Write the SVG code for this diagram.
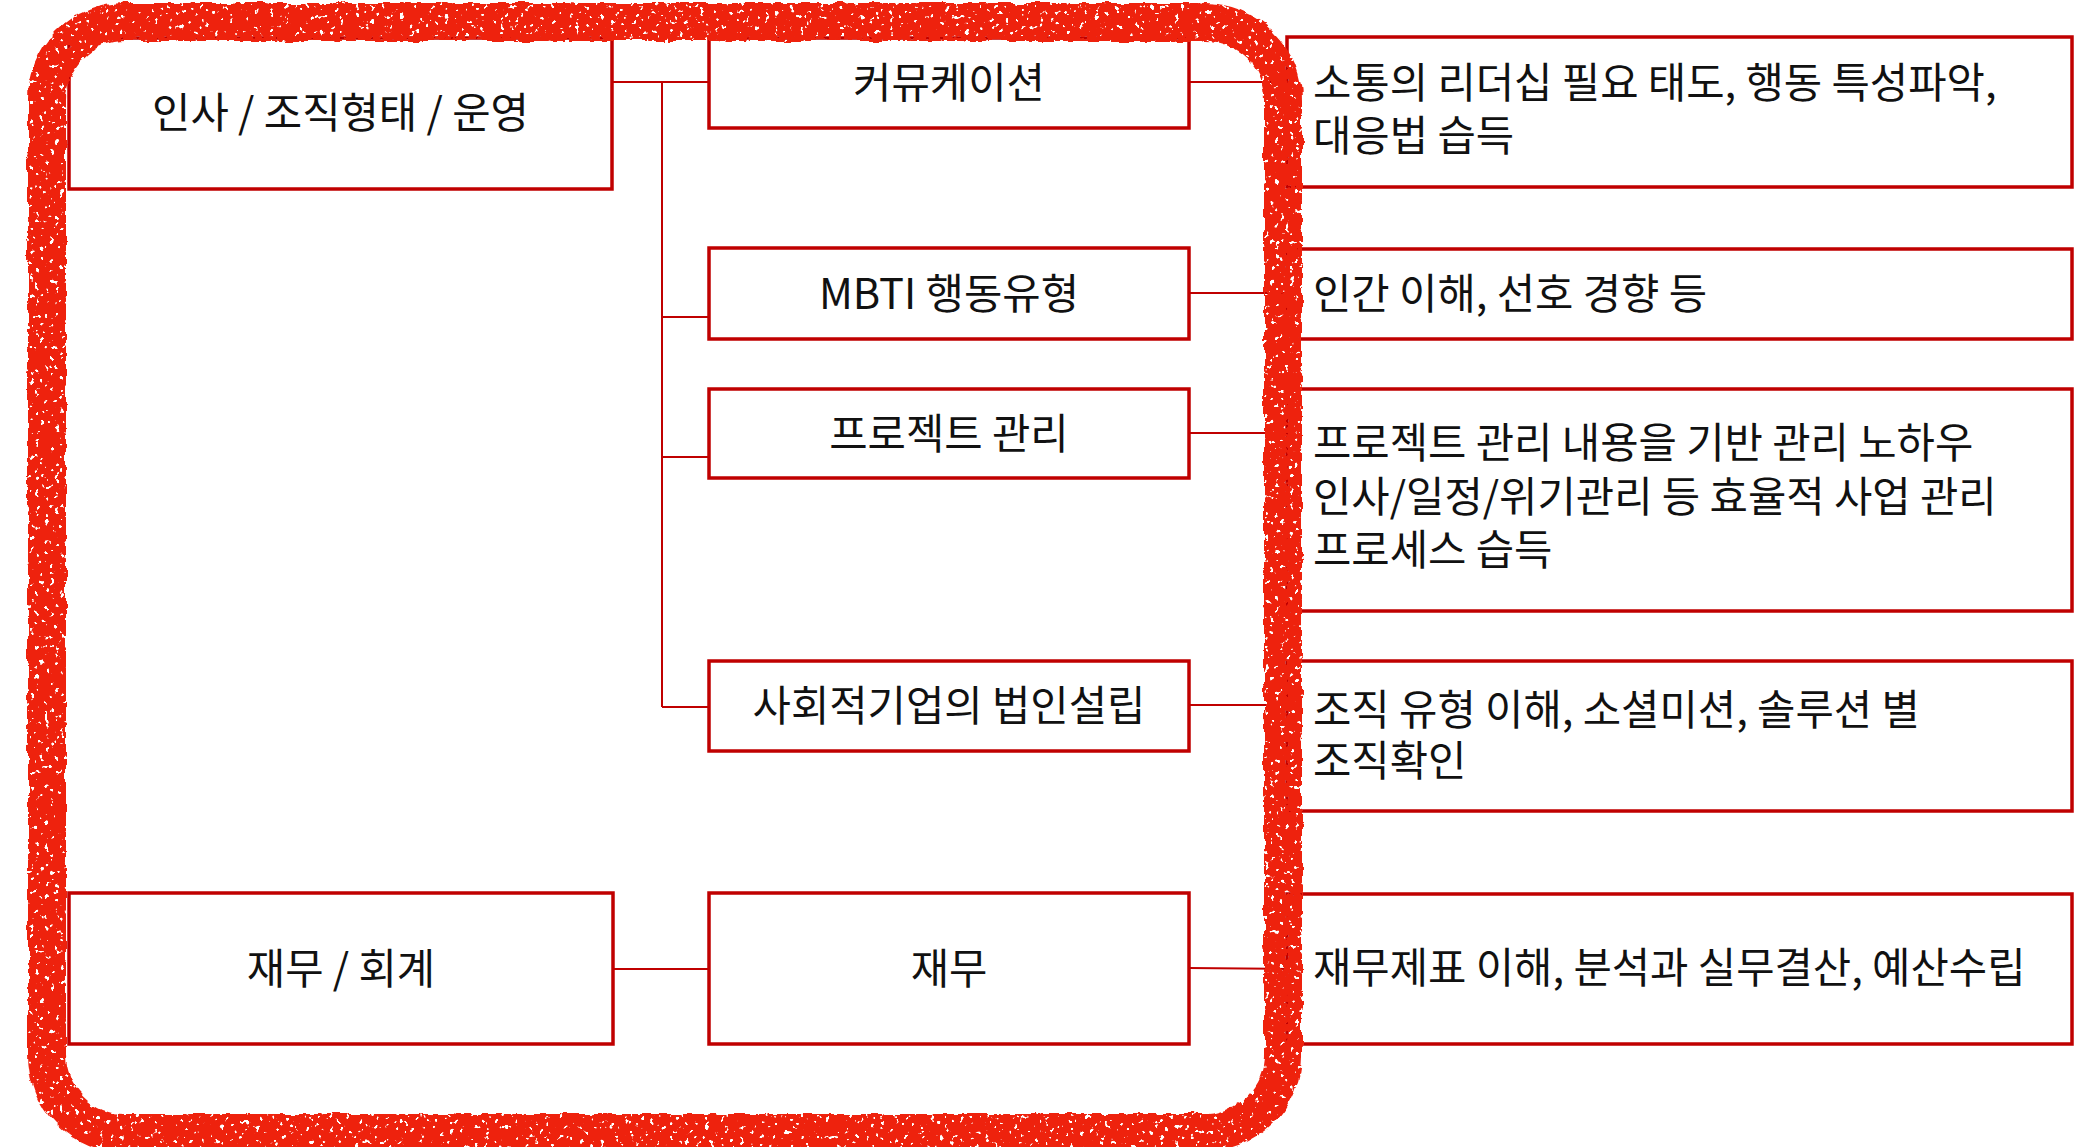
<svg xmlns="http://www.w3.org/2000/svg" width="2074" height="1147" viewBox="0 0 2074 1147">
  <style>
    .box { fill: #ffffff; stroke: #C00000; stroke-width: 3.5; }
    .conn { fill: none; stroke: #C00000; stroke-width: 2; }
    .t { font-family: "Noto Sans CJK KR", "Noto Sans", sans-serif; font-size: 41.7px; fill: #111111; }
    .c { text-anchor: middle; }
    .l { text-anchor: start; }
    .frame { fill: none; stroke: #EE2211; stroke-width: 38; }
  </style>
  <defs>
    <filter id="rough" x="-5%" y="-5%" width="110%" height="110%">
      <feTurbulence type="fractalNoise" baseFrequency="0.06" numOctaves="3" seed="4" result="noise"/>
      <feDisplacementMap in="SourceGraphic" in2="noise" scale="7" xChannelSelector="R" yChannelSelector="G" result="disp"/>
      <feTurbulence type="fractalNoise" baseFrequency="0.2" numOctaves="2" seed="9" result="n2"/>
      <feColorMatrix in="n2" type="matrix" values="0 0 0 0 0  0 0 0 0 0  0 0 0 0 0  -20 0 0 0 14.2" result="holes"/>
      <feComposite in="disp" in2="holes" operator="in"/>
    </filter>
  </defs>
  <rect width="2074" height="1147" fill="#ffffff"/>

  <g id="connectors">
    <line class="conn" x1="612" y1="82" x2="709" y2="82"/>
    <line class="conn" x1="662" y1="82" x2="662" y2="707"/>
    <line class="conn" x1="662" y1="317" x2="709" y2="317"/>
    <line class="conn" x1="662" y1="457" x2="709" y2="457"/>
    <line class="conn" x1="662" y1="707" x2="709" y2="707"/>
    <line class="conn" x1="612" y1="969" x2="709" y2="969"/>
    <line class="conn" x1="1189" y1="82" x2="1290" y2="82"/>
    <line class="conn" x1="1189" y1="293" x2="1290" y2="293"/>
    <line class="conn" x1="1189" y1="433" x2="1290" y2="433"/>
    <line class="conn" x1="1189" y1="705" x2="1290" y2="705"/>
    <line class="conn" x1="1189" y1="968" x2="1290" y2="969"/>
  </g>

  <g id="node-hr">
    <rect class="box" x="69" y="38" width="543" height="151"/>
    <text class="t c" x="340.5" y="128">인사 / 조직형태 / 운영</text>
  </g>
  <g id="node-finance-acc">
    <rect class="box" x="69" y="893" width="544" height="151"/>
    <text class="t c" x="341" y="984">재무 / 회계</text>
  </g>

  <g id="node-comm">
    <rect class="box" x="709" y="38" width="480" height="90"/>
    <text class="t c" x="949" y="98">커뮤케이션</text>
  </g>
  <g id="node-mbti">
    <rect class="box" x="709" y="248" width="480" height="91"/>
    <text class="t c" x="949" y="309">MBTI 행동유형</text>
  </g>
  <g id="node-project">
    <rect class="box" x="709" y="389" width="480" height="89"/>
    <text class="t c" x="949" y="449">프로젝트 관리</text>
  </g>
  <g id="node-social">
    <rect class="box" x="709" y="661" width="480" height="90"/>
    <text class="t c" x="949" y="721">사회적기업의 법인설립</text>
  </g>
  <g id="node-finance">
    <rect class="box" x="709" y="893" width="480" height="151"/>
    <text class="t c" x="949" y="984">재무</text>
  </g>

  <g id="node-r1">
    <rect class="box" x="1287" y="37" width="785" height="150"/>
    <text class="t l" x="1313" y="98"><tspan x="1313" y="98">소통의 리더십 필요 태도, 행동 특성파악,</tspan><tspan x="1313" y="151">대응법 습득</tspan></text>
  </g>
  <g id="node-r2">
    <rect class="box" x="1287" y="249" width="785" height="90"/>
    <text class="t l" x="1313" y="309">인간 이해, 선호 경향 등</text>
  </g>
  <g id="node-r3">
    <rect class="box" x="1287" y="389" width="785" height="222"/>
    <text class="t l" x="1313" y="458"><tspan x="1313" y="458">프로젝트 관리 내용을 기반 관리 노하우</tspan><tspan x="1313" y="512">인사/일정/위기관리 등 효율적 사업 관리</tspan><tspan x="1313" y="565">프로세스 습득</tspan></text>
  </g>
  <g id="node-r4">
    <rect class="box" x="1287" y="661" width="785" height="150"/>
    <text class="t l" x="1313" y="725"><tspan x="1313" y="725">조직 유형 이해, 소셜미션, 솔루션 별</tspan><tspan x="1313" y="776">조직확인</tspan></text>
  </g>
  <g id="node-r5">
    <rect class="box" x="1287" y="894" width="785" height="150"/>
    <text class="t l" x="1313" y="983">재무제표 이해, 분석과 실무결산, 예산수립</text>
  </g>

  <g id="highlight-frame">
    <rect class="frame" x="47" y="22" width="1236" height="1111" rx="78" ry="78" filter="url(#rough)"/>
  </g>
</svg>
